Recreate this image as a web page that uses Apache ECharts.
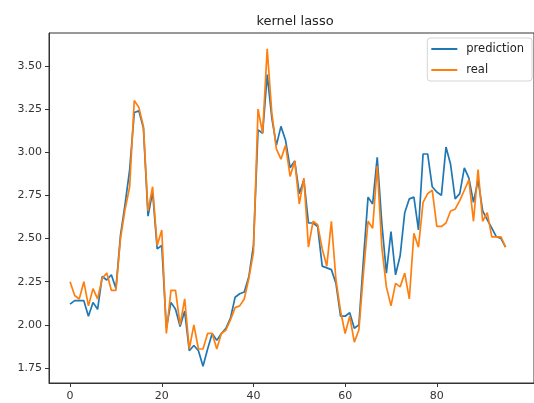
<!DOCTYPE html>
<html>
<head>
<meta charset="utf-8">
<script src="https://cdn.jsdelivr.net/npm/echarts@6/dist/echarts.min.js"></script>
<style>
  html, body { margin: 0; padding: 0; background: #fff; }
  #chart { width: 534px; height: 403px; }
</style>
</head>
<body>
<div id="chart"></div>
<script>
// values
const prediction = [
  2.12, 2.14, 2.14, 2.14, 2.05, 2.13, 2.09, 2.28, 2.26, 2.29,
  2.21, 2.52, 2.70, 2.90, 3.23, 3.24, 3.14, 2.63, 2.77, 2.44,
  2.46, 1.98, 2.13, 2.09, 1.99, 2.08, 1.85, 1.88, 1.85, 1.76,
  1.86, 1.95, 1.91, 1.95, 1.98, 2.04, 2.16, 2.18, 2.19, 2.28,
  2.46, 3.13, 3.11, 3.45, 3.20, 3.04, 3.15, 3.07, 2.91, 2.95,
  2.76, 2.84, 2.59, 2.59, 2.57, 2.34, 2.33, 2.32, 2.24, 2.05,
  2.05, 2.07, 1.98, 2.00, 2.38, 2.74, 2.70, 2.97, 2.59, 2.30,
  2.54, 2.29, 2.40, 2.65, 2.73, 2.74, 2.55, 2.99, 2.99, 2.80,
  2.77, 2.75, 3.03, 2.93, 2.73, 2.76, 2.91, 2.85, 2.71, 2.84,
  2.66, 2.61, 2.56, 2.51, 2.50, 2.45
];
const real = [
  2.25, 2.17, 2.15, 2.25, 2.11, 2.21, 2.15, 2.27, 2.30, 2.20,
  2.20, 2.50, 2.67, 2.80, 3.30, 3.26, 3.15, 2.66, 2.80, 2.46,
  2.55, 1.95, 2.20, 2.20, 2.00, 2.15, 1.86, 2.00, 1.86, 1.86,
  1.95, 1.95, 1.86, 1.95, 1.97, 2.03, 2.10, 2.11, 2.15, 2.27,
  2.42, 3.25, 3.11, 3.60, 3.23, 3.02, 2.96, 3.04, 2.86, 2.95,
  2.70, 2.85, 2.45, 2.60, 2.58, 2.44, 2.34, 2.60, 2.26, 2.08,
  1.95, 2.05, 1.90, 1.97, 2.30, 2.60, 2.56, 2.92, 2.45, 2.22,
  2.11, 2.24, 2.22, 2.30, 2.15, 2.53, 2.45, 2.71, 2.76, 2.78,
  2.57, 2.57, 2.59, 2.66, 2.67, 2.72, 2.78, 2.84, 2.60, 2.90,
  2.60, 2.65, 2.51, 2.51, 2.51, 2.45
];
const xTicks = [0, 20, 40, 60, 80];
const yTicks = [1.75, 2.00, 2.25, 2.50, 2.75, 3.00, 3.25, 3.50];

let chart = echarts.init(document.getElementById('chart'));
let font = 'DejaVu Sans';
let toPairs = function(arr) {
    return arr.map((v, i) => [i, v]);
};

let option = {
    animation: false,
    backgroundColor: '#fff',
    title: {
        text: 'kernel lasso',
        left: 290,
        top: 10,
        textAlign: 'center',
        textStyle: { fontFamily: font, fontSize: 13, fontWeight: 'normal', color: '#222' }
    },
    legend: {
        orient: 'vertical',
        right: 2,
        top: 38,
        data: ['prediction', 'real'],
        icon: 'rect',
        itemWidth: 26,
        itemHeight: 2,
        itemGap: 9,
        padding: [5, 8, 5, 4],
        backgroundColor: '#fff',
        borderColor: '#d5d5d5',
        borderWidth: 1,
        borderRadius: 3,
        textStyle: { fontFamily: font, fontSize: 11.5, color: '#222', padding: [0, 0, 0, 4] }
    },
    grid: {
        left: 49,
        right: 0,
        top: 33,
        bottom: 20,
        show: true,
        borderColor: '#333',
        borderWidth: 1
    },
    xAxis: {
        type: 'value',
        min: -4.6,
        max: 101.2,
        splitLine: { show: false },
        axisLine: { show: true, onZero: false, lineStyle: { color: '#333' } },
        axisTick: { show: true, customValues: xTicks, length: 4, lineStyle: { color: '#333' } },
        axisLabel: {
            customValues: xTicks,
            fontFamily: font,
            fontSize: 11,
            color: '#333',
            margin: 8
        }
    },
    yAxis: {
        type: 'value',
        min: 1.663,
        max: 3.691,
        splitLine: { show: false },
        axisLine: { show: true, onZero: false, lineStyle: { color: '#333' } },
        axisTick: { show: true, customValues: yTicks, length: 4, lineStyle: { color: '#333' } },
        axisLabel: {
            customValues: yTicks,
            fontFamily: font,
            fontSize: 11,
            color: '#333',
            margin: 7,
            formatter: function(v) { return v.toFixed(2); }
        }
    },
    series: [
        {
            name: 'prediction',
            type: 'line',
            data: toPairs(prediction),
            showSymbol: false,
            symbol: 'none',
            color: '#1f77b4',
            lineStyle: { width: 1.7, color: '#1f77b4' }
        },
        {
            name: 'real',
            type: 'line',
            data: toPairs(real),
            showSymbol: false,
            symbol: 'none',
            color: '#ff7f0e',
            lineStyle: { width: 1.7, color: '#ff7f0e' }
        }
    ]
};
chart.setOption(option, true);
</script>
</body>
</html>
